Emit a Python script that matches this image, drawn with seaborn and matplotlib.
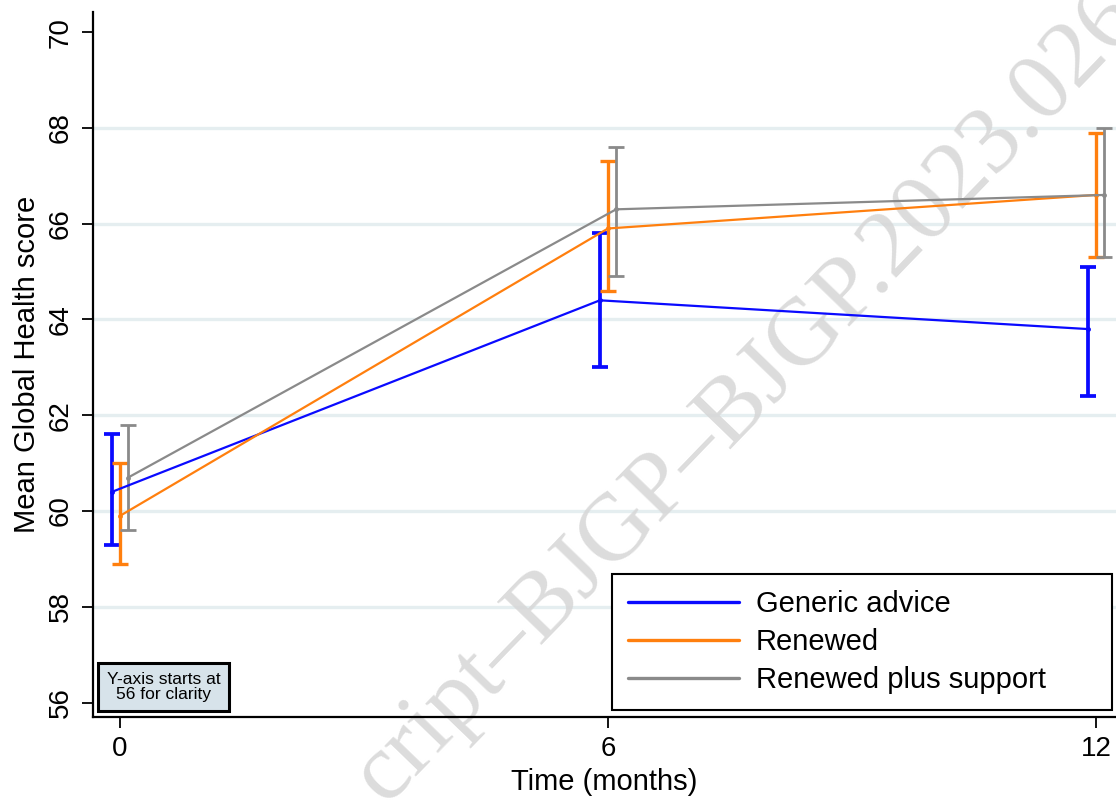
import matplotlib
matplotlib.use("Agg")
import numpy as np
import pandas as pd
import seaborn as sns
import matplotlib.pyplot as plt

# ---- data ----
groups = ["Generic advice", "Renewed", "Renewed plus support"]
times = [0, 6, 12]
generic_mean = [60.4, 64.4, 63.8]
generic_lo = [59.3, 63.0, 62.4]
generic_hi = [61.6, 65.8, 65.1]
renewed_mean = [59.9, 65.9, 66.6]
renewed_lo = [58.9, 64.6, 65.3]
renewed_hi = [61.0, 67.3, 67.9]
support_mean = [60.7, 66.3, 66.6]
support_lo = [59.6, 64.9, 65.3]
support_hi = [61.8, 67.6, 68.0]
y_ticks = [56, 58, 60, 62, 64, 66, 68, 70]
x_ticks = [0, 6, 12]
note_text = "Y-axis starts at\n56 for clarity"
watermark = "cript\u2013BJGP\u2013BJGP.2023.026"

# ---- styling ----
colors = {"Generic advice": "#0a0aff", "Renewed": "#ff7f0e", "Renewed plus support": "#8a8a8a"}
offsets = {"Generic advice": -0.1, "Renewed": 0.0, "Renewed plus support": 0.1}

means = [generic_mean, renewed_mean, support_mean]
los = [generic_lo, renewed_lo, support_lo]
his = [generic_hi, renewed_hi, support_hi]
rows = []
for g, m, lo, hi in zip(groups, means, los, his):
    for t, mv, l, h in zip(times, m, lo, hi):
        rows.append({"group": g, "time": t, "xpos": t + offsets[g], "mean": mv, "lo": l, "hi": h})
df = pd.DataFrame(rows)

sns.set_theme(style="white")
plt.rcParams["font.family"] = ["Liberation Sans", "DejaVu Sans"]
plt.rcParams["text.color"] = "black"
plt.rcParams["axes.labelcolor"] = "black"

fig = plt.figure(figsize=(11.16, 8.01), dpi=100)
ax = fig.add_axes([93 / 1116, 84 / 801, 1023 / 1116, 705 / 801])
ax.set_facecolor("white")

# grid lines (interior ticks only)
for yv in y_ticks[1:-1]:
    ax.axhline(yv, color="#e5eef0", lw=2.4, zorder=0.5)

sns.lineplot(data=df, x="xpos", y="mean", hue="group", hue_order=groups,
             palette=colors, estimator=None, errorbar=None, sort=True,
             linewidth=1.6, marker="o", markersize=3.5, markeredgewidth=0,
             ax=ax, zorder=3)

elw = {"Generic advice": 2.7, "Renewed": 2.4, "Renewed plus support": 2.0}
for g in groups:
    sub = df[df["group"] == g]
    ax.errorbar(sub["xpos"], sub["mean"],
                yerr=[sub["mean"] - sub["lo"], sub["hi"] - sub["mean"]],
                fmt="none", ecolor=colors[g], elinewidth=elw[g],
                capsize=5.5, capthick=elw[g], zorder=2.5)

ax.set_xlim(-0.332, 12.246)
ax.set_ylim(55.70, 70.42)
ax.set_xticks(x_ticks)
ax.set_xticklabels([str(v) for v in x_ticks])
ax.set_yticks(y_ticks)
ax.set_yticklabels([str(v) for v in y_ticks], rotation=90, va="center")
ax.tick_params(axis="both", direction="out", length=8, width=1.3, color="black",
               labelsize=20, labelcolor="black", bottom=True, left=True)
ax.tick_params(axis="y", pad=6)
ax.tick_params(axis="x", pad=6)

ax.set_xlabel("Time (months)", fontsize=21, color="black", labelpad=4)
ax.set_ylabel("Mean Global Health score", fontsize=21, color="black", labelpad=5)

for s in ["top", "right"]:
    ax.spines[s].set_visible(False)
for s in ["left", "bottom"]:
    ax.spines[s].set_color("black")
    ax.spines[s].set_linewidth(1.6)

handles, labels = ax.get_legend_handles_labels()
for h in handles:
    h.set_marker("")
    h.set_linewidth(2.4)
leg = ax.legend(handles, labels, loc="lower left",
                bbox_to_anchor=(0.507, 0.0099, 0.489, 0.194), mode="expand",
                borderaxespad=0, frameon=True, fancybox=False, framealpha=1,
                edgecolor="black", fontsize=21, handlelength=3.8,
                handletextpad=0.6, labelspacing=0.34, borderpad=0.55,
                labelcolor="black")
leg.get_frame().set_linewidth(1.5)

ax.text(0.069, 0.0426, note_text, transform=ax.transAxes, ha="center", va="center",
        fontsize=12.5, linespacing=1.0, multialignment="center", zorder=4, color="black",
        bbox=dict(boxstyle="square,pad=0.5", fc="#d7e3ea", ec="black", lw=2.2))

ax.text(385 / 1116, -4 / 801, watermark, transform=fig.transFigure,
        rotation=46, rotation_mode="anchor", ha="left", va="baseline",
        fontsize=69, family=["Liberation Serif", "DejaVu Serif"],
        color="#d6d6d6", alpha=0.85, clip_on=False, zorder=1)

fig.savefig("out.png", dpi=100)
